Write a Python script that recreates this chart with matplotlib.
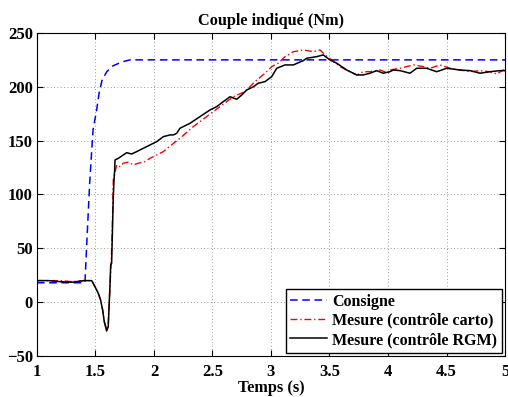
import matplotlib
matplotlib.use('Agg')
import matplotlib.pyplot as plt

# Consigne
t_cons = [1.0, 1.41, 1.427, 1.45, 1.479, 1.510, 1.532, 1.556, 1.596, 1.650, 1.724, 1.795, 1.906, 5.0]
v_cons = [18, 18, 58, 110, 160, 178.5, 195, 206, 214, 219.5, 223, 225, 225, 225]

# Mesure (contrôle carto)
t_carto = [1.0, 1.1, 1.2, 1.3, 1.4, 1.47, 1.496, 1.524, 1.544, 1.561, 1.575, 1.595, 1.609, 1.615,
           1.624, 1.635, 1.644, 1.652, 1.681, 1.709, 1.738, 1.780, 1.823, 1.866, 1.923, 1.966,
           1.994, 2.023, 2.080, 2.137, 2.222, 2.336, 2.450, 2.564, 2.678, 2.778, 2.863, 2.949,
           3.006, 3.062, 3.120, 3.191, 3.276, 3.362, 3.419, 3.462, 3.519, 3.590, 3.675, 3.733,
           3.789, 3.846, 3.932, 4.003, 4.017, 4.103, 4.217, 4.302, 4.359, 4.444, 4.530, 4.615,
           4.701, 4.786, 4.872, 4.929, 4.985, 5.0]
v_carto = [20, 20, 20, 19, 20, 20, 14, 8, 2, -7, -18, -25, -20, -5,
           14, 40, 70, 113.5, 127.4, 125.8, 129, 130, 127.4, 129, 130.5, 133.6,
           135.1, 136.7, 139.8, 145, 152.2, 163, 172.3, 181.6, 190.8, 195.5, 204.8, 212.6,
           218.7, 221.9, 228, 232.6, 234.2, 232.6, 234.2, 229.6, 224.9, 218.7, 214, 211,
           214, 214, 215.6, 212.6, 215.6, 217.2, 220.3, 218.7, 217.2, 220.3, 217.2, 215.6,
           214, 215, 214, 211.9, 215.6, 215]

# Mesure (contrôle RGM)
t_rgm = [1.0, 1.1, 1.2, 1.3, 1.4, 1.467, 1.496, 1.524, 1.544, 1.561, 1.575, 1.595, 1.609, 1.615,
         1.624, 1.630, 1.638, 1.644, 1.652, 1.658, 1.664, 1.667, 1.695, 1.738, 1.766, 1.809,
         1.852, 1.909, 1.966, 2.023, 2.080, 2.137, 2.165, 2.194, 2.222, 2.308, 2.393, 2.479,
         2.536, 2.592, 2.650, 2.707, 2.750, 2.792, 2.849, 2.891, 2.949, 3.006, 3.049, 3.120,
         3.191, 3.276, 3.305, 3.391, 3.447, 3.504, 3.562, 3.647, 3.733, 3.789, 3.846, 3.903,
         3.960, 4.017, 4.045, 4.103, 4.188, 4.245, 4.330, 4.416, 4.502, 4.615, 4.701, 4.786,
         4.872, 4.957, 5.0]
v_rgm = [20, 20, 19, 18.5, 20, 20, 14.4, 8.2, 2, -7.3, -18, -26.8, -22.8, -7.3,
         16, 34.5, 36, 62, 98, 112, 123, 132, 133.6, 136.7, 138.8, 137.6,
         139.8, 142.9, 146, 149, 153.7, 155.3, 155.3, 156.8, 161.5, 166.1, 172.3, 178.5,
         181.6, 186.2, 190.8, 188.4, 192.4, 197, 200, 203.3, 204.8, 209.4, 217.2, 220.3,
         220.3, 224.3, 226.5, 228, 229.6, 224.9, 221.9, 215.6, 211, 211, 212.6, 215,
         212.6, 214.1, 215.6, 215, 212.6, 217.2, 217.2, 214, 217.2, 215.6, 215, 212.6,
         214, 215, 215]

x_ticks = [1, 1.5, 2, 2.5, 3, 3.5, 4, 4.5, 5]
x_tick_labels = ['1', '1.5', '2', '2.5', '3', '3.5', '4', '4.5', '5']
y_ticks = [-50, 0, 50, 100, 150, 200, 250]

plt.rcParams['font.family'] = ['Liberation Serif', 'DejaVu Serif']
plt.rcParams['font.weight'] = 'bold'

fig = plt.figure(figsize=(5.08, 3.97), dpi=100)
ax = fig.add_axes([0.0728, 0.1033, 0.9213, 0.8137])

ax.plot(t_cons, v_cons, color='#0000ff', linestyle=(0, (5, 3)), linewidth=1.1, label='Consigne')
ax.plot(t_carto, v_carto, color='#ff0000', linestyle=(0, (5, 2, 1, 2)), linewidth=1.0,
        label='Mesure (contrôle carto)')
ax.plot(t_rgm, v_rgm, color='black', linestyle='-', linewidth=1.1, label='Mesure (contrôle RGM)')

ax.set_xlim(1, 5)
ax.set_ylim(-50, 250)
ax.set_xticks(x_ticks)
ax.set_xticklabels(x_tick_labels)
ax.set_yticks(y_ticks)
ax.tick_params(direction='in', top=True, right=True, labelsize=12, length=4)
ax.tick_params(axis='x', pad=6)
ax.tick_params(axis='y', pad=3)
for lab in ax.get_xticklabels() + ax.get_yticklabels():
    lab.set_fontweight('bold')

ax.grid(True, linestyle=(0, (1, 3)), color='#777777', linewidth=0.6)
for sp in ax.spines.values():
    sp.set_linewidth(0.8)

ax.set_title('Couple indiqué (Nm)', fontsize=11.7, fontweight='bold', pad=6)
ax.set_xlabel('Temps (s)', fontsize=11.7, fontweight='bold', labelpad=0)

leg = ax.legend(loc='lower right', fontsize=11.5, fancybox=False, edgecolor='black',
                framealpha=1, borderaxespad=0.2, handlelength=2.3, handletextpad=0.3,
                borderpad=0.3, labelspacing=0.2)
leg.get_frame().set_linewidth(1.0)
for txt in leg.get_texts():
    txt.set_fontweight('bold')

fig.savefig('out.png', dpi=100)
